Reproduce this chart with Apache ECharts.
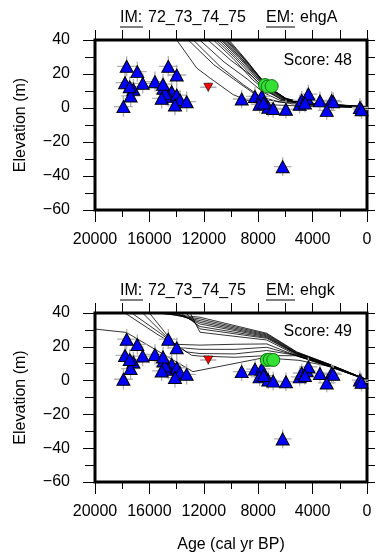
<!DOCTYPE html>
<html><head><meta charset="utf-8">
<script src="https://cdn.jsdelivr.net/npm/echarts@6/dist/echarts.min.js"></script>
<style>html,body{margin:0;padding:0;background:#fff}#c{width:376px;height:557px}</style>
</head><body><div id="c"></div>
<script>
// ---------- data ----------
const xTickLabels = ['20000','16000','12000','8000','4000','0'];
const yTickLabels = ['40','20','0','\u221220','\u221240','\u221260'];

// observed sea-level indicators (blue triangles)
const obsAge  = [17670,16890,14610,13990,17790,16490,15590,17180,14970,14360,17380,14610,13990,13750,13260,17910,14120,14850,15100,17450,15000,
                 9215,8235,7740,7900,7260,6900,5960,4950,4800,4430,4310,4560,3460,2600,2480,2960,520,400,7600,6200];
const obsElev = [24.5,21.4,24.5,19.4,14.9,14.5,15.5,11.0,11.6,9.6,7.1,6.7,7.6,4.7,3.7,0.8,1.8,8.6,5.7,12.5,14.0,
                 5.3,6.8,6.9,2.2,0.4,-0.3,-0.7,2.2,4.5,5.8,8.2,3.0,4.2,4.4,3.7,-1.4,0.3,-1.0,3.0,-34.5];
const obsAgeErr  = [700,700,700,700,700,700,700,700,700,700,700,700,700,700,700,700,700,700,700,700,700,
                    650,650,650,650,650,650,650,650,650,650,650,650,650,650,650,650,600,600,650,650];
const obsElevErr = [6,6,6,6,6,6,6,6,6,6,6,6,6,6,6,6,6,6,6,6,6,
                    5.5,5.5,5.5,5.5,5.5,5.5,5.5,5.5,5.5,5.5,5.5,5.5,5.5,5.5,5.5,5.5,5.5,5.5,5.5,5.5];

// limiting point (red inverted triangle)
const limAge  = [11670];
const limElev = [12.2];
const limAgeErr = [600];
const limElevErr = [3];

// green circles
const greenAgeA  = [7500, 7300, 7010];
const greenElevA = [13.5, 12.6, 12.9];
const greenAgeK  = [7370, 7150, 6890];
const greenElevK = [12.2, 12.4, 12.2];

// model curves, panel ehgA
const modelA = [
  [[14500,46],[13990,40],[12520,23.5],[11540,17.6],[9830,7.8],[8600,3.9],[7130,1.9],[5000,1.2],[0,0]],
  [[13500,45],[13140,40],[11270,25.5],[9580,15.7],[8360,8.8],[7370,4.9],[5000,2.0],[0,0]],
  [[13100,45],[12770,40],[10810,24.5],[9090,13.7],[7870,6.9],[6500,3.5],[4000,1.8],[0,0]],
  [[12600,44],[12300,40],[10500,27],[8800,17],[7600,9],[6400,4.5],[4500,2.2],[0,0.2]],
  [[12000,44],[11700,40],[10000,28],[8500,19],[7500,11],[6300,5],[4500,2.5],[0,0.3]],
  [[11600,44],[11300,40],[9850,29.2],[8400,16.5],[7350,9.6],[6200,4.7],[4900,2.2],[0,0.4]],
  [[11400,44],[11100,40],[9700,29.5],[8250,17],[7250,10],[6150,5],[4900,2.5],[0,0.5]],
  [[11200,44],[10900,40],[9550,29.5],[8150,17.5],[7200,10.5],[6100,5.2],[4800,2.6],[0,0.5]],
  [[11050,44],[10750,40],[9400,29.5],[8050,17.5],[7150,11],[6100,5.5],[4800,2.8],[0,0.6]],
  [[10900,44],[10650,40],[9300,29.5],[7950,17],[7100,11],[6050,5.3],[4700,2.7],[0,0.6]],
  [[10800,44],[10550,40],[9200,29],[7850,17],[7050,11.2],[6000,5.8],[4700,3],[0,0.7]],
  [[10700,44],[10450,40],[9100,29],[7800,16.8],[7000,11],[6000,5.5],[4600,2.8],[0,0.7]],
  [[10600,44],[10350,40],[9000,28.5],[7700,16.5],[6950,11],[5950,5.5],[4600,3],[0,0.8]],
  [[10500,44],[10250,40],[8900,28],[7650,16],[6900,10.5],[5900,5],[4500,2.7],[0,0.8]],
  [[10400,44],[10150,40],[8800,27.5],[7600,15],[6850,10],[5850,5],[4500,2.8],[0,0.9]]
];

// model curves, panel ehgk
const modelK = [
  [[20000,30.5],[17700,28.5],[12800,5.3],[7600,13.5],[5000,12],[2700,8.3],[0,0.5]],
  [[18100,42],[17800,40],[15460,27.6],[14200,21.5],[12280,21],[9700,21.5],[7370,21.7],[5170,14.6],[2700,8.0],[0,0.5]],
  [[17600,42],[17300,40],[15200,28],[13800,19.5],[12280,18.5],[9700,18.5],[7370,19.7],[5170,14.8],[2700,8.2],[0,0.5]],
  [[16800,42],[16500,40],[14500,24],[13300,17],[12280,16],[9700,15.8],[7370,17.8],[5170,15],[2700,8.4],[0,0.5]],
  [[16300,42],[16000,40],[14200,22],[12900,15],[12280,14.5],[9700,13.8],[7370,14.8],[5170,14.7],[2700,8.5],[0,0.5]],
  [[15800,42],[15500,40],[12280,37.5],[7370,28],[5170,17],[2700,9.5],[0,0.5]],
  [[15500,42],[15200,40],[12280,36.5],[7370,27.5],[5170,16.8],[2700,9.4],[0,0.5]],
  [[15000,42],[14700,40],[12280,35.5],[7370,27],[5170,16.5],[2700,9.3],[0,0.5]],
  [[14600,42],[14300,40],[12280,34.5],[7370,26.5],[5170,16.2],[2700,9.2],[0,0.5]],
  [[14300,42],[14000,40],[12280,33.5],[7370,26],[5170,16],[2700,9.0],[0,0.5]],
  [[14000,42],[13700,40],[12280,32],[7370,25.5],[5170,15.8],[2700,8.8],[0,0.5]],
  [[13600,42],[13300,40],[12280,30.6],[7370,25],[5170,15.5],[2700,8.6],[0,0.5]],
  [[13300,42],[13000,40],[12280,28.6],[7370,24],[5170,15],[2700,8.4],[0,0.5]]
];

// ---------- chart ----------
const FF = '"Liberation Sans", Arial, Helvetica, sans-serif';
const minus = v => String(v).replace('-', '\u2212');
const grids = [
  {left:95, top:40, width:272, height:170},
  {left:95, top:313, width:272, height:169}
];

// error-bar crosses as broken polylines (gaps between segments)
const errData = [];
const addCross = (a, e, dx, dy) => errData.push([a + dx, e], [a - dx, e], null, [a, e + dy], [a, e - dy], null);
obsAge.forEach((a, i) => addCross(a, obsElev[i], obsAgeErr[i], obsElevErr[i]));
limAge.forEach((a, i) => addCross(a, limElev[i], limAgeErr[i], limElevErr[i]));

const noLine = {show:false, onZero:false};
const xAxes = [], yAxes = [], series = [];
grids.forEach((g, gi) => {
  xAxes.push({
    gridIndex: gi, type:'value', min:0, max:20000, interval:4000, inverse:true, position:'bottom',
    axisLine:noLine,
    axisTick:{show:true, length:12, lineStyle:{color:'#000', width:1}},
    minorTick:{show:true, splitNumber:2, length:7, lineStyle:{color:'#000', width:1}},
    splitLine:{show:false}, minorSplitLine:{show:false},
    axisLabel:{margin:22, fontSize:16, color:'#000', fontFamily:FF, formatter: minus},
    name: gi === 1 ? 'Age (cal yr BP)' : '', nameLocation:'middle', nameGap:55,
    nameTextStyle:{fontSize:16, color:'#000', fontFamily:FF}
  });
  xAxes.push({
    gridIndex: gi, type:'value', min:0, max:20000, interval:2000, inverse:true, position:'top',
    axisLine:noLine,
    axisTick:{show:true, length:10, lineStyle:{color:'#000', width:1}},
    axisLabel:{show:false}, splitLine:{show:false}
  });
  yAxes.push({
    gridIndex: gi, type:'value', min:-60, max:40, interval:20, position:'left',
    axisLine:noLine,
    axisTick:{show:true, length:12, lineStyle:{color:'#000', width:1}},
    minorTick:{show:true, splitNumber:2, length:10, lineStyle:{color:'#000', width:1}},
    splitLine:{show:false}, minorSplitLine:{show:false},
    axisLabel:{margin:25, fontSize:16, color:'#000', fontFamily:FF, formatter: minus},
    name:'Elevation (m)', nameLocation:'middle', nameGap:66,
    nameTextStyle:{fontSize:16, color:'#000', fontFamily:FF}
  });
  yAxes.push({
    gridIndex: gi, type:'value', min:-60, max:40, interval:10, position:'right',
    axisLine:noLine,
    axisTick:{show:true, length:8, lineStyle:{color:'#000', width:1}},
    axisLabel:{show:false}, splitLine:{show:false}
  });

  const xi = gi * 2, yi = gi * 2;
  const model = gi === 0 ? modelA : modelK;
  model.forEach(line => series.push({
    type:'line', xAxisIndex:xi, yAxisIndex:yi, data: line, symbol:'none', silent:true,
    lineStyle:{color:'#000', width:0.8}, z:2, clip:true
  }));
  series.push({
    type:'line', xAxisIndex:xi, yAxisIndex:yi, data: errData, symbol:'none', silent:true,
    connectNulls:false, lineStyle:{color:'#b0b0b0', width:1.3}, z:3, clip:true
  });
  series.push({
    type:'scatter', xAxisIndex:xi, yAxisIndex:yi, silent:true, z:4,
    data: obsAge.map((a, i) => [a, obsElev[i]]),
    symbol:'triangle', symbolSize:[13, 12],
    itemStyle:{color:'#0000ff', borderColor:'#000', borderWidth:1, opacity:1}
  });
  series.push({
    type:'scatter', xAxisIndex:xi, yAxisIndex:yi, silent:true, z:4,
    data: limAge.map((a, i) => [a, limElev[i]]),
    symbol:'triangle', symbolRotate:180, symbolSize:[9, 8],
    itemStyle:{color:'#ff0000', borderColor:'#000', borderWidth:0.6, opacity:1}
  });
  const gA = gi === 0 ? greenAgeA : greenAgeK, gE = gi === 0 ? greenElevA : greenElevK;
  series.push({
    type:'scatter', xAxisIndex:xi, yAxisIndex:yi, silent:true, z:5,
    data: gA.map((a, i) => [a, gE[i]]),
    symbol:'circle', symbolSize:13,
    itemStyle:{color:'#33e033', borderColor:'#157015', borderWidth:1, opacity:1}
  });
});

const txt = (x, y, s, align) => ({type:'text', x, y, silent:true,
  style:{text:s, fontSize:16, fontFamily:FF, fill:'#000', align: align || 'left', verticalAlign:'middle'}});
const ul = (x1, x2, y) => ({type:'line', silent:true, shape:{x1, y1:y, x2, y2:y}, style:{stroke:'#000', lineWidth:1}});
const graphic = [];
[[18, 'ehgA', 61, 'Score: 48'], [291, 'ehgk', 332, 'Score: 49']].forEach(([ty, em, sy, sc]) => {
  graphic.push(txt(120, ty, 'IM:'), txt(148, ty, '72_73_74_75'), txt(266, ty, 'EM:'), txt(300, ty, em));
  graphic.push(ul(120, 143, ty + 9), ul(266, 295, ty + 9));
  graphic.push(txt(352, sy, sc, 'right'));
});

const chart = echarts.init(document.getElementById('c'), null, {renderer:'canvas'});
chart.setOption({
  animation:false,
  backgroundColor:'#fff',
  grid: grids.map(g => Object.assign({show:true, borderColor:'#000', borderWidth:3, backgroundColor:'transparent'}, g)),
  xAxis: xAxes, yAxis: yAxes, series, graphic
});
</script></body></html>
